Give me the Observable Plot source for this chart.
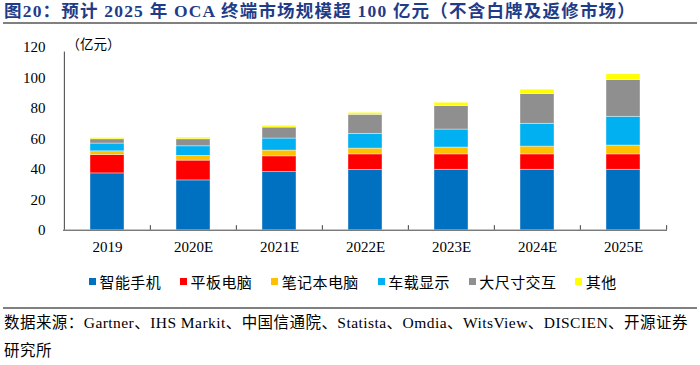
<!DOCTYPE html>
<html>
<head>
<meta charset="utf-8">
<script src="https://cdn.jsdelivr.net/npm/d3@7"></script>
<script src="https://cdn.jsdelivr.net/npm/@observablehq/plot@0.6"></script>
<style>
  html, body { margin: 0; padding: 0; background: #fff; }
  body { width: 700px; height: 365px; overflow: hidden; font-family: "Liberation Serif", "Noto Sans CJK SC", serif; }
  #title { height: 22px; line-height: 22px; padding-left: 4px; font-size: 17.5px; font-weight: bold; color: #1F3C88; white-space: nowrap; letter-spacing: 1.2px; }
  .rule { margin: 0 3px; height: 0; border-top: 2px solid #808080; }
  #chart { height: 240px; }
  #legend { height: 34px; display: flex; align-items: center; padding-left: 89px; font-size: 15px; color: #000; }
  .item { display: flex; align-items: center; margin-right: 19px; white-space: nowrap; letter-spacing: 0.4px; }
  .sw { width: 7px; height: 7px; margin-right: 3.5px; }
  #caption { padding-left: 4px; font-size: 15.5px; line-height: 28px; color: #000; white-space: nowrap; letter-spacing: 0.45px; }
</style>
</head>
<body>
<div id="title"></div>
<div class="rule"></div>
<div id="chart"></div>
<div id="legend"></div>
<div class="rule" style="margin-top:9px"></div>
<div id="caption"></div>
<script>
const titleText = "图20：预计 2025 年 OCA 终端市场规模超 100 亿元（不含白牌及返修市场）";
const unitLabel = "（亿元）";
const captionLines = ["数据来源：Gartner、IHS Markit、中国信通院、Statista、Omdia、WitsView、DISCIEN、开源证券", "研究所"];

const years = ["2019", "2020E", "2021E", "2022E", "2023E", "2024E", "2025E"];
const series = ["智能手机", "平板电脑", "笔记本电脑", "车载显示", "大尺寸交互", "其他"];
const colors = ["#0070C0", "#FF0000", "#FFC000", "#00B0F0", "#8F8F8F", "#FFFF00"];
const yTicks = [0, 20, 40, 60, 80, 100, 120];

const phone  = [37.3, 32.7, 38.2, 39.6, 39.7, 39.7, 39.7];
const tablet = [12.1, 13.0, 10.3, 10.2, 10.1, 10.1, 10.1];
const laptop = [2.4, 3.1, 3.8, 3.8, 4.5, 5.1, 5.8];
const car    = [5.1, 6.3, 7.9, 9.7, 11.8, 15.0, 18.9];
const large  = [2.8, 4.6, 7.2, 12.5, 15.4, 19.5, 24.1];
const other  = [0.9, 1.1, 1.2, 1.3, 2.2, 2.9, 3.8];

const values = [phone, tablet, laptop, car, large, other];
const rows = years.flatMap((y, i) => series.map((s, j) => ({year: y, series: s, value: values[j][i]})));

document.getElementById("title").textContent = titleText;
document.getElementById("caption").innerHTML = captionLines.join("<br>");

const W = 700, mL = 63, mR = 33;
const step = (W - mL - mR) / years.length;
const axisColor = "#404040";

const chart = Plot.plot({
  width: W, height: 240,
  marginLeft: mL, marginRight: mR, marginTop: 23, marginBottom: 34.3,
  x: {domain: years, paddingInner: 0.6, paddingOuter: 0.3, label: null},
  y: {domain: [0, 120], label: null},
  color: {domain: series, range: colors},
  style: {fontFamily: '"Liberation Serif", "Noto Sans CJK SC", serif', fontSize: "15px", color: "#000", background: "#fff"},
  marks: [
    Plot.barY(rows, {x: "year", y: "value", fill: "series", stroke: "#fff", strokeOpacity: 0.55, strokeWidth: 0.7}),
    Plot.axisY({ticks: yTicks, tickSize: 0, tickPadding: 18, label: null, fontSize: 15}),
    Plot.axisX({tickSize: 0, tickPadding: 11, label: null, fontSize: 15}),
    Plot.ruleY([0], {stroke: axisColor, strokeWidth: 1}),
    Plot.ruleX([years[0]], {x: d => d, y1: 0, y2: 117, dx: -step / 2, stroke: axisColor}),
    Plot.ruleX(years.slice(1), {x: d => d, y1: 0, y2: 3, dx: -step / 2, stroke: axisColor}),
    Plot.ruleX([years[years.length - 1]], {x: d => d, y1: 0, y2: 3, dx: step / 2, stroke: axisColor}),
    Plot.text([unitLabel], {frameAnchor: "top-left", text: d => d, dx: 3, dy: -8, fontSize: 13.5, fontFamily: '"Noto Sans CJK SC", sans-serif', textAnchor: "start", lineAnchor: "top"})
  ]
});
document.getElementById("chart").appendChild(chart);

const legend = document.getElementById("legend");
series.forEach((s, i) => {
  const item = document.createElement("div");
  item.className = "item";
  const sw = document.createElement("div");
  sw.className = "sw";
  sw.style.background = colors[i];
  const t = document.createElement("span");
  t.textContent = s;
  item.appendChild(sw);
  item.appendChild(t);
  legend.appendChild(item);
});
</script>
</body>
</html>
